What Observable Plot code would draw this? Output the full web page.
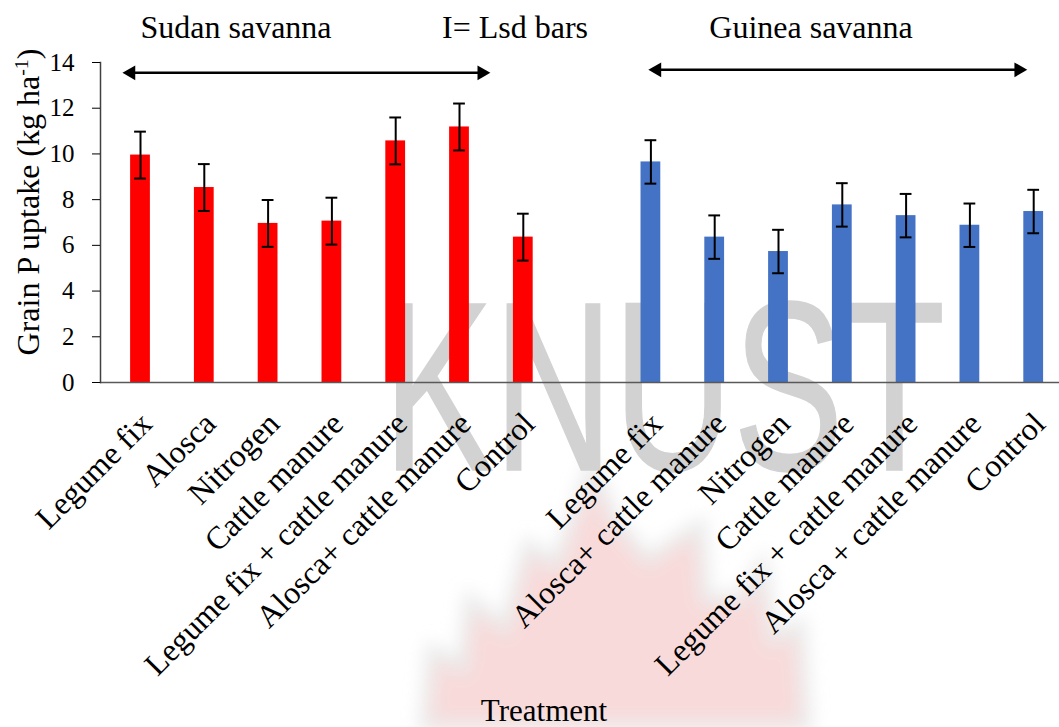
<!DOCTYPE html>
<html><head><meta charset="utf-8">
<script src="https://cdn.jsdelivr.net/npm/d3@7"></script>
<script src="https://cdn.jsdelivr.net/npm/@observablehq/plot@0.6"></script>
<style>
body{margin:0;background:#fff}
#wrap{position:relative;width:1059px;height:727px;overflow:hidden;background:#fff;font-family:"Liberation Serif","Times New Roman",serif;color:#000}
.abs{position:absolute}
.t{position:absolute;font-size:32px;line-height:1;white-space:nowrap;transform:translateX(-50%)}
#ylab{position:absolute;left:28px;top:202px;font-size:32px;line-height:1;white-space:nowrap;transform:translate(-50%,-50%) rotate(-90deg)}
#ylab sup{font-size:0.62em;vertical-align:0.55em;line-height:0}
</style></head><body>
<div id="wrap">
<svg class="abs" width="1059" height="727" style="left:0;top:0">
  <defs><filter id="bl" x="-20%" y="-20%" width="140%" height="140%"><feGaussianBlur stdDeviation="9"/></filter></defs>
  <path d="M425,727 L432,650 L462,668 L470,600 L505,628 L528,545 L556,565 L592,468 L615,520 L648,560 L700,525 L705,600 L742,598 L762,565 L772,640 L800,625 L806,727 Z" fill="#f5c2c2" stroke="#dcdcdc" stroke-width="12" opacity="0.6" filter="url(#bl)"/>
  <text x="383" y="470" font-family="Liberation Sans, Arial, sans-serif" font-size="242" textLength="562" lengthAdjust="spacingAndGlyphs" fill="#d2d2d2" stroke="#d2d2d2" stroke-width="1.5">KNUST</text>
</svg>
<div id="chart" class="abs" style="left:0;top:0"></div>
<div class="t" style="left:236px;top:11px">Sudan savanna</div>
<div class="t" style="left:515px;top:11px">I= Lsd bars</div>
<div class="t" style="left:811px;top:11px">Guinea savanna</div>
<div id="ylab">Grain P uptake (kg ha<sup>-1</sup>)</div>
<div class="t" style="left:544px;top:695px;font-size:31px">Treatment</div>
</div>
<script>
// Sudan savanna
const sudanTreatments = ["Legume fix", "Alosca", "Nitrogen", "Cattle manure", "Legume fix + cattle manure", "Alosca+ cattle manure", "Control"];
const sudanUptake = [9.95, 8.53, 6.96, 7.06, 10.57, 11.18, 6.36];
const sudanLsd = 2.05;
const sudanColor = "#ff0000";
// Guinea savanna
const guineaTreatments = ["Legume fix", "Alosca+ cattle manure", "Nitrogen", "Cattle manure", "Legume fix + cattle manure", "Alosca + cattle manure", "Control"];
const guineaUptake = [9.65, 6.36, 5.73, 7.77, 7.30, 6.88, 7.48];
const guineaLsd = 1.9;
const guineaColor = "#4472c4";
// axis
const yTicks = [0, 2, 4, 6, 8, 10, 12, 14];
const yDomain = [0, 14];
// region arrows (value level)
const sudanArrowLevel = 13.55;
const guineaArrowLevel = 13.68;

const sudanKeys = sudanTreatments.map(t => "S|" + t);
const guineaKeys = guineaTreatments.map(t => "G|" + t);
const xDomain = [...sudanKeys, "gap", ...guineaKeys];

const rows = (keys, vals, lsd, color) => keys.map((k, i) => ({key: k, uptake: vals[i], lo: vals[i] - lsd / 2, hi: vals[i] + lsd / 2, color}));
const data = [...rows(sudanKeys, sudanUptake, sudanLsd, sudanColor), ...rows(guineaKeys, guineaUptake, guineaLsd, guineaColor)];

const sArrow = [{from: sudanKeys[0], to: sudanKeys[sudanKeys.length - 1], y: sudanArrowLevel}];
const gArrow = [{from: guineaKeys[0], to: guineaKeys[guineaKeys.length - 1], y: guineaArrowLevel}];
const head = {symbol: "triangle", r: 5.5, fill: "#000", stroke: "none"};
const shaft = {x1: "from", x2: "to", y1: "y", y2: "y", stroke: "#000", strokeWidth: 2.5, headLength: 0};

const chart = Plot.plot({
  width: 1059, height: 727,
  marginLeft: 100, marginRight: 0, marginTop: 62, marginBottom: 345,
  style: {fontFamily: "Liberation Serif, Times New Roman, serif", background: "transparent", overflow: "visible", color: "#000"},
  x: {type: "band", domain: xDomain, range: [108.1, 1065.1], paddingInner: 0.69, paddingOuter: 0.345, round: false, axis: null},
  y: {domain: yDomain, range: [382, 62], axis: null},
  color: {type: "identity"},
  marks: [
    Plot.barY(data, {x: "key", y: "uptake", fill: "color"}),
    Plot.ruleX(data, {x: "key", y1: "lo", y2: "hi", stroke: "#000", strokeWidth: 2}),
    Plot.tickY(data, {x: "key", y: "lo", stroke: "#000", strokeWidth: 2, insetLeft: 4, insetRight: 4}),
    Plot.tickY(data, {x: "key", y: "hi", stroke: "#000", strokeWidth: 2, insetLeft: 4, insetRight: 4}),
    Plot.ruleY([0], {stroke: "#595959", strokeWidth: 1.5}),
    Plot.frame({anchor: "left", stroke: "#404040", strokeWidth: 1.5}),
    Plot.axisY({ticks: yTicks, tickSize: 8, tickPadding: 18, fontSize: 25, label: null}),
    Plot.axisX({tickSize: 0, tickRotate: -45, tickPadding: 36, dx: 6, fontSize: 32, label: null,
                tickFormat: d => d.includes("|") ? d.split("|")[1] : ""}),
    Plot.arrow(sArrow, {...shaft, insetStart: -10, insetEnd: 41}),
    Plot.dot([{x: sArrow[0].from, y: sudanArrowLevel}], {x: "x", y: "y", ...head, rotate: -90, dx: -9.5}),
    Plot.dot([{x: sArrow[0].to, y: sudanArrowLevel}], {x: "x", y: "y", ...head, rotate: 90, dx: -41.5}),
    Plot.arrow(gArrow, {...shaft, insetStart: 5.5, insetEnd: 15}),
    Plot.dot([{x: gArrow[0].from, y: guineaArrowLevel}], {x: "x", y: "y", ...head, rotate: -90, dx: 6}),
    Plot.dot([{x: gArrow[0].to, y: guineaArrowLevel}], {x: "x", y: "y", ...head, rotate: 90, dx: -15})
  ]
});
document.getElementById("chart").append(chart);
</script>
</body></html>
